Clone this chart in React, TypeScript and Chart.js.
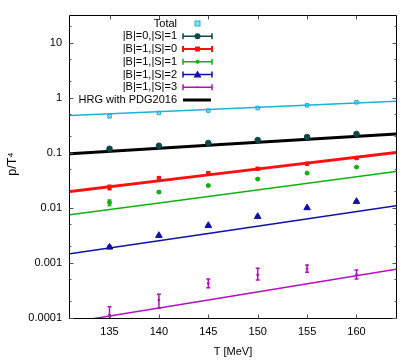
import { useEffect, useRef } from "react";
import { Chart, registerables } from "chart.js";
Chart.register(...registerables);

// Lattice points
const temperatures = [135, 140, 145, 150, 155, 160];
const totalValues = [0.457, 0.527, 0.581, 0.648, 0.724, 0.822];
const b0s1Values = [0.118, 0.134, 0.15, 0.17, 0.193, 0.219];
const b1s0Values = [0.0234, 0.0347, 0.0427, 0.0512, 0.063, 0.08];
const b1s0Lo = [0.0212, 0.0328, 0.041, 0.0495, 0.061, 0.0775];
const b1s0Hi = [0.0256, 0.0366, 0.0444, 0.0529, 0.065, 0.0825];
const b1s1Values = [0.0125, 0.0193, 0.0254, 0.0332, 0.0427, 0.0548];
const b1s1Lo = [0.011, 0.0187, 0.0248, 0.0325, 0.0419, 0.0538];
const b1s1Hi = [0.0139, 0.0199, 0.026, 0.0339, 0.0435, 0.0558];
const b1s2Values = [0.00193, 0.00314, 0.00477, 0.00695, 0.01, 0.013];
const b1s2Lo = [0.00182, 0.00302, 0.00465, 0.0068, 0.0098, 0.0127];
const b1s2Hi = [0.00204, 0.00326, 0.00489, 0.0071, 0.0102, 0.0133];
const b1s3Values = [0.000114, 0.000212, 0.000427, 0.000605, 0.000778, 0.000605];
const b1s3Lo = [0.00008, 0.00015, 0.000355, 0.00049, 0.00068, 0.00051];
const b1s3Hi = [0.00016, 0.00027, 0.000512, 0.0008, 0.00092, 0.00074];

// HRG curves
const curveT = [131, 145, 164];
const hrgTotal = [0.476, 0.611, 0.857];
const hrgPdg = [0.096, 0.136, 0.219];
const hrgB1S0 = [0.0198, 0.0396, 0.101];
const hrgB1S1 = [0.00746, 0.0161, 0.0457];
const hrgB1S2 = [0.00146, 0.00342, 0.01086];
const hrgB1S3 = [0.000083, 0.000213, 0.000767];

const xTicks = [135, 140, 145, 150, 155, 160];
const yTicks = [0.0001, 0.001, 0.01, 0.1, 1, 10];
const yMinorTicks = [0.0002, 0.0005, 0.002, 0.005, 0.02, 0.05, 0.2, 0.5, 2, 5, 20];

const legendLabels = [
  "Total",
  "|B|=0,|S|=1",
  "|B|=1,|S|=0",
  "|B|=1,|S|=1",
  "|B|=1,|S|=2",
  "|B|=1,|S|=3",
  "HRG with PDG2016",
];

const C_CYAN = "#1cb2d3";
const C_TEAL = "#0c4848";
const C_RED = "#ff1010";
const C_GREEN = "#10b010";
const C_BLUE = "#1010a8";
const C_MAG = "#b010c0";

const FONT = "'Liberation Sans', Arial, sans-serif";

const pts = (xs: number[], ys: number[]) => xs.map((x, i) => ({ x, y: ys[i] }));

export default function App() {
  const ref = useRef<HTMLCanvasElement | null>(null);
  useEffect(() => {
    document.body.style.margin = "0";
    const canvas = ref.current!;
    const errorBars = {
      id: "errorBars",
      afterDatasetsDraw(chart: any) {
        const ctx = chart.ctx;
        const xs = chart.scales.x;
        const ys = chart.scales.y;
        const a = chart.chartArea;
        ctx.save();
        ctx.beginPath();
        ctx.rect(a.left, a.top, a.right - a.left, a.bottom - a.top);
        ctx.clip();
        chart.data.datasets.forEach((ds: any) => {
          if (!ds.errLo) return;
          ctx.strokeStyle = ds.borderColor;
          ctx.lineWidth = 1.5;
          ds.data.forEach((p: any, i: number) => {
            const px = xs.getPixelForValue(p.x);
            const lo = ys.getPixelForValue(ds.errLo[i]);
            const hi = ys.getPixelForValue(ds.errHi[i]);
            ctx.beginPath();
            ctx.moveTo(px, lo);
            ctx.lineTo(px, hi);
            ctx.moveTo(px - 2, lo);
            ctx.lineTo(px + 2, lo);
            ctx.moveTo(px - 2, hi);
            ctx.lineTo(px + 2, hi);
            ctx.stroke();
          });
        });
        ctx.restore();
      },
    };
    const frame = {
      id: "frame",
      afterDraw(chart: any) {
        const ctx = chart.ctx;
        const xs = chart.scales.x;
        const ys = chart.scales.y;
        const a = chart.chartArea;
        const L = Math.round(a.left) - 0.5;
        const R = Math.round(a.right) + 0.5;
        const T = Math.round(a.top) + 0.5;
        const B = Math.round(a.bottom) + 0.5;
        ctx.save();
        ctx.strokeStyle = "#000";
        ctx.lineWidth = 1;
        ctx.beginPath();
        ctx.rect(L, T, R - L, B - T);
        ctx.stroke();
        ctx.strokeStyle = "#555";
        ctx.beginPath();
        xTicks.forEach((v) => {
          const px = Math.round(xs.getPixelForValue(v)) + 0.5;
          ctx.moveTo(px, B);
          ctx.lineTo(px, B - 4);
          ctx.moveTo(px, T);
          ctx.lineTo(px, T + 4);
        });
        yTicks.forEach((v) => {
          const py = Math.round(ys.getPixelForValue(v)) + 0.5;
          ctx.moveTo(L, py);
          ctx.lineTo(L + 4, py);
          ctx.moveTo(R, py);
          ctx.lineTo(R - 4, py);
        });
        yMinorTicks.forEach((v) => {
          const py = Math.round(ys.getPixelForValue(v)) + 0.5;
          ctx.moveTo(L, py);
          ctx.lineTo(L + 2, py);
          ctx.moveTo(R, py);
          ctx.lineTo(R - 2, py);
        });
        ctx.stroke();

        // axis titles
        ctx.fillStyle = "#000";
        ctx.font = `11px ${FONT}`;
        ctx.textAlign = "center";
        ctx.textBaseline = "middle";
        ctx.fillText("T [MeV]", 233, 352);
        ctx.save();
        ctx.translate(13, 164);
        ctx.rotate(-Math.PI / 2);
        ctx.font = `12.5px ${FONT}`;
        ctx.fillText("p/T⁴", 0, 0);
        ctx.restore();

        // legend
        const textX = 177;
        const x0 = 183;
        const x1 = 212;
        const xm = 197.5;
        const colors = [C_CYAN, C_TEAL, C_RED, C_GREEN, C_BLUE, C_MAG, "#000"];
        legendLabels.forEach((lab, i) => {
          const y = 23.5 + i * 12.75;
          ctx.fillStyle = "#000";
          ctx.font = `11px ${FONT}`;
          ctx.textAlign = "right";
          ctx.textBaseline = "middle";
          ctx.fillText(lab, textX, y);
          const col = colors[i];
          ctx.strokeStyle = col;
          ctx.fillStyle = col;
          if (i === 0) {
            ctx.lineWidth = 1;
            ctx.fillStyle = "#8fdcee";
            ctx.fillRect(xm - 2.5, y - 2.5, 5, 5);
            ctx.strokeRect(xm - 2.5, y - 2.5, 5, 5);
          } else if (i === 6) {
            ctx.lineWidth = 3;
            ctx.beginPath();
            ctx.moveTo(x0, y);
            ctx.lineTo(x1 - 1, y);
            ctx.stroke();
          } else {
            ctx.lineWidth = i === 2 ? 2 : 1.5;
            ctx.beginPath();
            ctx.moveTo(x0, y);
            ctx.lineTo(x1, y);
            ctx.moveTo(x0, y - 3);
            ctx.lineTo(x0, y + 3);
            ctx.moveTo(x1, y - 3);
            ctx.lineTo(x1, y + 3);
            ctx.stroke();
            ctx.beginPath();
            if (i === 1) {
              ctx.arc(xm, y, 3, 0, Math.PI * 2);
              ctx.fill();
            } else if (i === 2) {
              ctx.fillRect(xm - 2.5, y - 2.5, 5, 5);
            } else if (i === 3) {
              ctx.arc(xm, y, 2, 0, Math.PI * 2);
              ctx.fill();
            } else if (i === 4) {
              ctx.moveTo(xm, y - 4);
              ctx.lineTo(xm + 4, y + 3);
              ctx.lineTo(xm - 4, y + 3);
              ctx.closePath();
              ctx.fill();
            } else {
              ctx.arc(xm, y, 1, 0, Math.PI * 2);
              ctx.fill();
            }
          }
        });
        ctx.restore();
      },
    };

    const lineDs = (data: number[], color: string, width: number) => ({
      type: "line" as const,
      data: pts(curveT, data),
      borderColor: color,
      borderWidth: width,
      pointRadius: 0,
      showLine: true,
      fill: false,
      clip: 0,
    });
    const pointDs = (
      data: number[],
      color: string,
      style: string,
      radius: number,
      lo?: number[],
      hi?: number[],
      bg?: string
    ) => ({
      type: "line" as const,
      data: pts(temperatures, data),
      borderColor: color,
      backgroundColor: bg || color,
      pointBackgroundColor: bg || color,
      pointBorderColor: color,
      pointBorderWidth: 1,
      pointStyle: style,
      pointRadius: radius,
      showLine: false,
      errLo: lo,
      errHi: hi,
      clip: 0,
    });

    const chart = new Chart(canvas, {
      type: "line",
      data: {
        datasets: [
          lineDs(hrgTotal, C_CYAN, 1.5),
          lineDs(hrgB1S1, C_GREEN, 1.5),
          lineDs(hrgB1S2, C_BLUE, 1.5),
          lineDs(hrgB1S3, C_MAG, 1.5),
          pointDs(totalValues, C_CYAN, "rect", 2.5, undefined, undefined, "#8fdcee"),
          pointDs(b0s1Values, C_TEAL, "circle", 2.8),
          pointDs(b1s0Values, C_RED, "rect", 2.4, b1s0Lo, b1s0Hi),
          pointDs(b1s1Values, C_GREEN, "circle", 2, b1s1Lo, b1s1Hi),
          pointDs(b1s2Values, C_BLUE, "triangle", 3.8, b1s2Lo, b1s2Hi),
          pointDs(b1s3Values, C_MAG, "circle", 1, b1s3Lo, b1s3Hi),
          lineDs(hrgB1S0, C_RED, 3),
          lineDs(hrgPdg, "#000", 3),
        ] as any,
      },
      options: {
        animation: false,
        responsive: false,
        maintainAspectRatio: false,
        layout: { padding: { top: 15, right: 19, left: 0, bottom: 0 } },
        plugins: { legend: { display: false }, tooltip: { enabled: false } },
        scales: {
          x: {
            type: "linear",
            min: 131,
            max: 164,
            afterBuildTicks: (s: any) => {
              s.ticks = xTicks.map((v) => ({ value: v }));
            },
            afterFit: (s: any) => {
              s.height = 42;
            },
            grid: { display: false, drawTicks: false },
            border: { display: false },
            ticks: {
              color: "#000",
              font: { family: FONT, size: 11 },
              padding: 7,
              maxRotation: 0,
              callback: (v: any) => String(v),
            },
          },
          y: {
            type: "logarithmic",
            min: 0.0001,
            max: 31.6,
            afterBuildTicks: (s: any) => {
              s.ticks = yTicks.map((v) => ({ value: v, major: true }));
            },
            afterFit: (s: any) => {
              s.width = 70;
            },
            grid: { display: false, drawTicks: false },
            border: { display: false },
            ticks: {
              color: "#000",
              font: { family: FONT, size: 11 },
              padding: 8,
              autoSkip: false,
              callback: (v: any) => String(v),
            },
          },
        },
      } as any,
      plugins: [errorBars, frame],
    });
    return () => chart.destroy();
  }, []);
  return <canvas ref={ref} width={415} height={360} style={{ display: "block" }} />;
}
